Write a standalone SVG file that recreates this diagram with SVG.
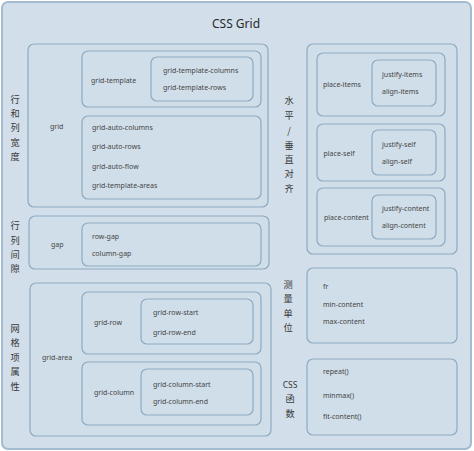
<svg xmlns="http://www.w3.org/2000/svg" width="474" height="451" viewBox="0 0 474 451">
<style>
.box{fill:#d0dee9;stroke:#8eaac2;stroke-width:1.2}
.t{font-family:"Noto Sans","Open Sans","Liberation Sans",sans-serif;font-size:7px;fill:#454545}
.cj{font-family:"Noto Sans CJK SC","Noto Sans",sans-serif;font-size:9.2px;fill:#383838;text-anchor:middle}
.title{font-family:"Noto Sans","Open Sans","Liberation Sans",sans-serif;font-size:12px;fill:#2a2a2a;text-anchor:middle}
</style>
<rect width="474" height="451" fill="#ffffff"/>
<g id="frame">
<rect x="2" y="2" width="469" height="447" rx="6" fill="#d2dfea" stroke="#a2bbd0" stroke-width="2"/>
<text class="title" x="236" y="28">CSS Grid</text>
</g>
<g id="connectors"/>
<g id="row-col-size">
<rect class="box" x="28" y="44" width="240" height="163" rx="6"/>
<text class="cj" x="15" y="103">行</text>
<text class="cj" x="15" y="117">和</text>
<text class="cj" x="15" y="131">列</text>
<text class="cj" x="15" y="146">宽</text>
<text class="cj" x="15" y="160">度</text>
<text class="t" x="50" y="128.5">grid</text>
</g>
<g id="grid-template">
<rect class="box" x="82" y="51" width="179" height="56" rx="6"/>
<text class="t" x="91" y="82.5">grid-template</text>
<rect class="box" x="151" y="57" width="102" height="44" rx="6"/>
<text class="t" x="163" y="72.5">grid-template-columns</text>
<text class="t" x="163" y="89.5">grid-template-rows</text>
</g>
<g id="grid-auto">
<rect class="box" x="82" y="116" width="179" height="83" rx="6"/>
<text class="t" x="92" y="129.5">grid-auto-columns</text>
<text class="t" x="92" y="149">grid-auto-rows</text>
<text class="t" x="92" y="168.5">grid-auto-flow</text>
<text class="t" x="92" y="188">grid-template-areas</text>
</g>
<g id="gap-section">
<rect class="box" x="29" y="216" width="240" height="53" rx="6"/>
<text class="cj" x="15" y="229">行</text>
<text class="cj" x="15" y="244">列</text>
<text class="cj" x="15" y="258">间</text>
<text class="cj" x="15" y="272">隙</text>
<text class="t" x="51" y="246.5">gap</text>
</g>
<g id="gap">
<rect class="box" x="82" y="223" width="179" height="43" rx="6"/>
<text class="t" x="92" y="238.5">row-gap</text>
<text class="t" x="92" y="255.5">column-gap</text>
</g>
<g id="item-props">
<rect class="box" x="30" y="283" width="241" height="153" rx="6"/>
<text class="cj" x="15" y="331.5">网</text>
<text class="cj" x="15" y="346">格</text>
<text class="cj" x="15" y="360.5">项</text>
<text class="cj" x="15" y="375">属</text>
<text class="cj" x="15" y="389.5">性</text>
<text class="t" x="42" y="359.5">grid-area</text>
</g>
<g id="grid-row">
<rect class="box" x="82" y="292" width="179" height="62" rx="6"/>
<text class="t" x="94" y="324.5">grid-row</text>
<rect class="box" x="141" y="299" width="112" height="45" rx="6"/>
<text class="t" x="153" y="314.5">grid-row-start</text>
<text class="t" x="153" y="334.5">grid-row-end</text>
</g>
<g id="grid-column">
<rect class="box" x="82" y="362" width="179" height="63" rx="6"/>
<text class="t" x="94" y="395">grid-column</text>
<rect class="box" x="141" y="369" width="112" height="46" rx="6"/>
<text class="t" x="153" y="386.5">grid-column-start</text>
<text class="t" x="153" y="403.5">grid-column-end</text>
</g>
<g id="align-section">
<rect class="box" x="307" y="44" width="150" height="210" rx="6"/>
<text class="cj" x="289" y="103.5">水</text>
<text class="cj" x="289" y="118.5">平</text>
<text class="cj" x="289" y="134">/</text>
<text class="cj" x="289" y="148.5">垂</text>
<text class="cj" x="289" y="163">直</text>
<text class="cj" x="289" y="177">对</text>
<text class="cj" x="289" y="191.5">齐</text>
</g>
<g id="place-items">
<rect class="box" x="317" y="53" width="128" height="63" rx="6"/>
<text class="t" x="323" y="86.5">place-items</text>
<rect class="box" x="372" y="60" width="64" height="46" rx="6"/>
<text class="t" x="382" y="76.5">justify-items</text>
<text class="t" x="382" y="93.5">align-items</text>
</g>
<g id="place-self">
<rect class="box" x="317" y="124" width="128" height="57" rx="6"/>
<text class="t" x="323.5" y="155.5">place-self</text>
<rect class="box" x="372" y="130" width="64" height="45" rx="6"/>
<text class="t" x="382" y="146.5">justify-self</text>
<text class="t" x="382" y="163.5">align-self</text>
</g>
<g id="place-content">
<rect class="box" x="317" y="188" width="128" height="58" rx="6"/>
<text class="t" x="324" y="220">place-content</text>
<rect class="box" x="372" y="195" width="64" height="44" rx="6"/>
<text class="t" x="382" y="210.5">justify-content</text>
<text class="t" x="382" y="228">align-content</text>
</g>
<g id="units">
<rect class="box" x="307" y="268" width="150" height="75" rx="6"/>
<text class="cj" x="288" y="287.5">测</text>
<text class="cj" x="288" y="302">量</text>
<text class="cj" x="288" y="316.5">单</text>
<text class="cj" x="288" y="331">位</text>
<text class="t" x="323" y="288.5">fr</text>
<text class="t" x="323" y="306.5">min-content</text>
<text class="t" x="323" y="324">max-content</text>
</g>
<g id="functions">
<rect class="box" x="307" y="359" width="150" height="76" rx="6"/>
<text class="cj" x="290" y="387.5" style="font-family:'Noto Sans',sans-serif;font-size:8.5px">CSS</text>
<text class="cj" x="290" y="402">函</text>
<text class="cj" x="290" y="416.5">数</text>
<text class="t" x="323" y="374">repeat()</text>
<text class="t" x="323" y="397.5">minmax()</text>
<text class="t" x="323" y="419">fit-content()</text>
</g>
</svg>
